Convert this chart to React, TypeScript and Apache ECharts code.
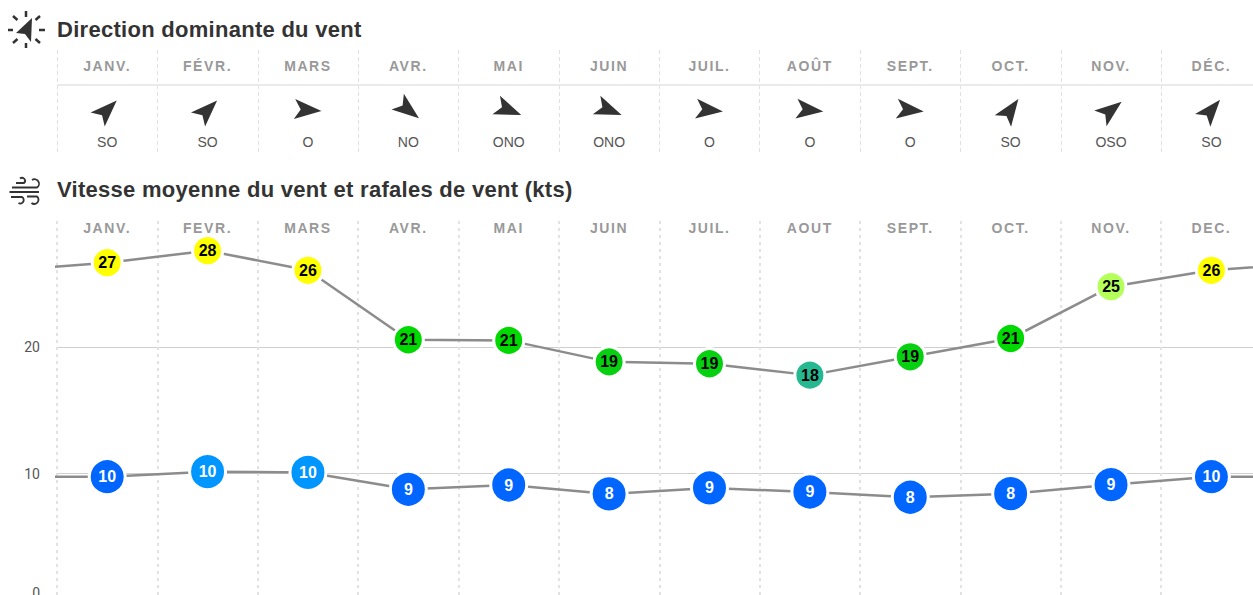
import React, { useEffect, useRef } from "react";
import * as echarts from "echarts";

const dirMonths = ["JANV.", "FÉVR.", "MARS", "AVR.", "MAI", "JUIN", "JUIL.", "AOÛT", "SEPT.", "OCT.", "NOV.", "DÉC."];
const dirLabels = ["SO", "SO", "O", "NO", "ONO", "ONO", "O", "O", "O", "SO", "OSO", "SO"];
const dirRotation = [45, 45, -4, -38, -22, -22, -6, -6, -6, 55, 38, 50];
const speedMonths = ["JANV.", "FEVR.", "MARS", "AVR.", "MAI", "JUIN", "JUIL.", "AOUT", "SEPT.", "OCT.", "NOV.", "DEC."];
const gusts = [26.7, 27.65, 26.1, 20.6, 20.55, 18.85, 18.7, 17.8, 19.25, 20.7, 24.8, 26.1];
const gustColors = ["#ffff00", "#ffff00", "#ffff00", "#00d900", "#00d900", "#06d010", "#06d010", "#26b890", "#06d010", "#00d900", "#b4ff5a", "#ffff00"];
const means = [9.76, 10.16, 10.1, 8.76, 9.1, 8.4, 8.87, 8.55, 8.13, 8.42, 9.13, 9.76];
const meanColors = ["#0066ff", "#0096ff", "#0096ff", "#0066ff", "#0066ff", "#0066ff", "#0066ff", "#0066ff", "#0066ff", "#0066ff", "#0066ff", "#0066ff"];

const ARROW = "path://M40 0 L-38 -26 L-20 0 L-38 26 Z";
const SANS = '"Liberation Sans", Arial, sans-serif';

echarts.graphic.registerShape(
  "windIcon",
  echarts.graphic.extendPath(
    "M16 183 H24 A3 3 0 1 0 20 178.5 M12 187.5 H37 A4 4 0 1 0 32 180 M9.5 192 H39 M11 197 H22 A3 3 0 1 1 18.5 203 M27 196.5 H37 A3.5 3.5 0 1 1 31.5 203",
    {}
  )
);
echarts.graphic.registerShape(
  "compassRays",
  echarts.graphic.extendPath(
    "M26 11 V17 M26 43 V48 M8 30 H13 M39 30 H45 M13 16 L17.5 20 M40 16 L35.5 20 M13 43 L17.5 39 M40 43 L35.5 39",
    {}
  )
);

function lineSeries(name: string, values: number[], colors: string[], size: number, xAxisIndex: number, yAxisIndex: number, labelColor: (i: number) => string) {
  const points = values.map((v, i) => ({
    value: [i + 0.5, v],
    symbolSize: size,
    itemStyle: { color: colors[i], borderColor: "#fff", borderWidth: 3 },
    label: {
      show: true,
      position: "inside",
      formatter: String(Math.round(v)),
      color: labelColor(i),
      fontFamily: SANS,
      fontWeight: "bold",
      fontSize: 16,
    },
  }));
  const wrapStart = { value: [-0.5, values[values.length - 1]], symbol: "none" };
  const wrapEnd = { value: [values.length + 0.5, values[0]], symbol: "none" };
  return {
    name,
    type: "line",
    xAxisIndex,
    yAxisIndex,
    clip: true,
    symbol: "circle",
    showAllSymbol: true,
    lineStyle: { color: "#8c8c8c", width: 2.5 },
    z: 5,
    data: [wrapStart, ...points, wrapEnd],
  };
}

export default function App() {
  const ref = useRef<HTMLDivElement>(null);
  useEffect(() => {
    document.body.style.margin = "0";
    const chart = echarts.init(ref.current!, undefined, { renderer: "svg" });
    const monthLabel = { show: true, inside: true, color: "#999999", fontFamily: SANS, fontWeight: "bold", fontSize: 14, interval: 0 };
    const hidden = { axisLine: { show: false }, axisTick: { show: false } };
    chart.setOption({
      animation: false,
      backgroundColor: "#fff",
      grid: [
        { left: 57, top: 50, width: 1204.6, height: 102 },
        { left: 57, top: 221, width: 1204.6, height: 379 },
      ],
      xAxis: [
        { gridIndex: 0, type: "value", min: 0, max: 12, interval: 1, ...hidden, axisLabel: { show: false }, splitLine: { show: true, lineStyle: { color: "#e0e0e0", type: [4, 3], width: 1 } } },
        { gridIndex: 0, type: "category", position: "top", data: dirMonths, ...hidden, axisLabel: { ...monthLabel, margin: 9 }, splitLine: { show: false } },
        { gridIndex: 0, type: "category", position: "bottom", data: dirLabels, ...hidden, axisLabel: { show: true, inside: true, interval: 0, margin: 3, color: "#555", fontFamily: SANS, fontSize: 14 }, splitLine: { show: false } },
        { gridIndex: 1, type: "value", min: 0, max: 12, interval: 1, ...hidden, axisLabel: { show: false }, splitLine: { show: true, lineStyle: { color: "#e2e2e2", type: [3, 4], width: 2 } } },
        { gridIndex: 1, type: "category", position: "top", data: speedMonths, ...hidden, axisLabel: { ...monthLabel, margin: 0 }, splitLine: { show: false } },
      ],
      yAxis: [
        { gridIndex: 0, type: "value", min: 0, max: 102, ...hidden, axisLabel: { show: false }, splitLine: { show: false } },
        {
          gridIndex: 1,
          type: "value",
          min: 0,
          max: 30,
          interval: 10,
          ...hidden,
          splitLine: { show: true, showMaxLine: false, lineStyle: { color: "#cfcfcf", width: 1 } },
          axisLabel: {
            show: true,
            showMaxLabel: false,
            margin: 17,
            color: "#555",
            fontFamily: "Roboto, sans-serif",
            fontSize: 14,
            formatter: (v: number) => (v === 0 ? "{zero|0}" : String(v)),
            rich: { zero: { color: "#555", fontFamily: "Roboto, sans-serif", fontSize: 14, padding: [0, 0, 14, 0] } },
          },
        },
      ],
      series: [
        {
          name: "Direction",
          type: "scatter",
          xAxisIndex: 0,
          yAxisIndex: 0,
          symbol: ARROW,
          symbolSize: [27, 20],
          itemStyle: { color: "#333", opacity: 1 },
          data: dirRotation.map((r, i) => ({ value: [i + 0.5, 42], symbolRotate: r })),
          markLine: {
            silent: true,
            symbol: "none",
            label: { show: false },
            lineStyle: { color: "#e5e5e5", width: 1.5, type: "solid" },
            data: [{ yAxis: 67 }],
          },
        },
        lineSeries("Rafales", gusts, gustColors, 30, 3, 1, () => "#000"),
        lineSeries("Vitesse moyenne", means, meanColors, 36, 3, 1, () => "#fff"),
      ],
      graphic: [
        { type: "text", x: 57, y: 29.5, style: { text: "Direction dominante du vent", fill: "#333333", font: `bold 22px ${SANS}`, verticalAlign: "middle" } },
        { type: "text", x: 57, y: 189.5, style: { text: "Vitesse moyenne du vent et rafales de vent (kts)", fill: "#333333", font: `bold 22px ${SANS}`, verticalAlign: "middle" } },
        { type: "compassRays", x: 0, y: 0, style: { fill: "none", stroke: "#333", lineWidth: 2.5 } },
        { type: "polygon", shape: { points: [[32, 18], [16, 33], [25, 34], [31, 42]] }, style: { fill: "#333" } },
        { type: "windIcon", x: 0, y: 0, style: { fill: "none", stroke: "#333", lineWidth: 1.8 } },
      ],
    });
    return () => chart.dispose();
  }, []);
  return (
    <div style={{ width: 1253, height: 595, overflow: "hidden" }}>
      <style>{`text[fill="#999999"]{letter-spacing:1.6px} text[fill="#333333"]{letter-spacing:0.28px}`}</style>
      <div ref={ref} style={{ width: 1280, height: 620 }} />
    </div>
  );
}
